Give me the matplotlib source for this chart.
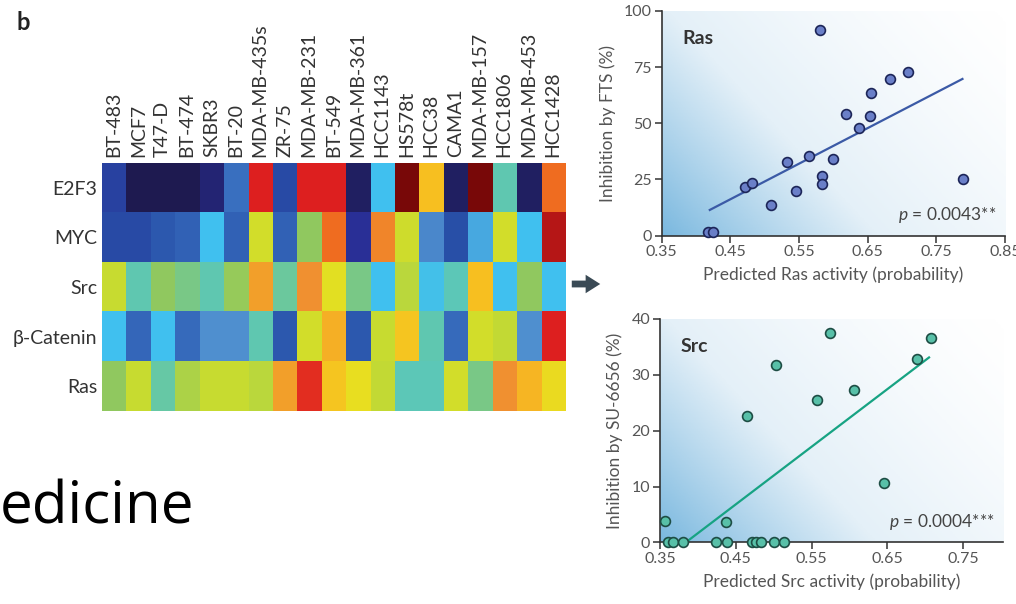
"""Heatmap of pathway activity + two inhibitor-response scatter plots"""

import numpy as np
import matplotlib
matplotlib.use('Agg')
import matplotlib.pyplot as plt
from matplotlib.colors import LinearSegmentedColormap
from matplotlib.patches import FancyArrowPatch
from matplotlib.transforms import IdentityTransform

plt.rcParams['font.family'] = ['Lato', 'DejaVu Sans']
plt.rcParams['mathtext.fontset'] = 'custom'
plt.rcParams['mathtext.rm'] = 'Lato'
plt.rcParams['mathtext.it'] = 'Lato:italic'

# ========== data ==========
cell_lines = ['BT-483', 'MCF7', 'T47-D', 'BT-474', 'SKBR3', 'BT-20', 'MDA-MB-435s',
              'ZR-75', 'MDA-MB-231', 'BT-549', 'MDA-MB-361', 'HCC1143', 'HS578t',
              'HCC38', 'CAMA1', 'MDA-MB-157', 'HCC1806', 'MDA-MB-453', 'HCC1428']
pathways = ['E2F3', 'MYC', 'Src', 'β-Catenin', 'Ras']

e2f3 = [0.12, 0.00, 0.00, 0.00, 0.04, 0.22, 0.92, 0.14, 0.92, 0.92,
        0.02, 0.38, 1.00, 0.74, 0.02, 1.00, 0.46, 0.02, 0.86]
myc = [0.14, 0.14, 0.17, 0.19, 0.38, 0.19, 0.64, 0.19, 0.54, 0.86,
       0.08, 0.82, 0.63, 0.28, 0.15, 0.34, 0.64, 0.38, 0.95]
src = [0.62, 0.46, 0.54, 0.50, 0.46, 0.55, 0.78, 0.48, 0.80, 0.67,
       0.50, 0.38, 0.60, 0.39, 0.45, 0.74, 0.38, 0.54, 0.38]
bcat = [0.38, 0.20, 0.38, 0.21, 0.30, 0.30, 0.46, 0.17, 0.64, 0.76,
        0.17, 0.62, 0.73, 0.46, 0.21, 0.64, 0.61, 0.30, 0.92]
ras = [0.54, 0.62, 0.47, 0.58, 0.62, 0.62, 0.60, 0.78, 0.91, 0.73,
       0.68, 0.61, 0.45, 0.45, 0.64, 0.50, 0.80, 0.75, 0.69]

# Ras activity vs FTS inhibition
ras_x = [0.418, 0.425, 0.472, 0.482, 0.509, 0.532, 0.546, 0.564, 0.580, 0.583,
         0.584, 0.599, 0.619, 0.637, 0.653, 0.655, 0.683, 0.709, 0.789]
ras_y = [1.8, 1.8, 21.4, 23.3, 13.6, 32.8, 20.0, 35.5, 91.5, 26.3,
         23.1, 34.1, 54.0, 47.8, 53.0, 63.6, 69.7, 72.7, 25.2]
ras_fit_x = [0.420, 0.788]
ras_fit_y = [11.4, 69.7]

# Src activity vs SU-6656 inhibition
src_x = [0.357, 0.360, 0.367, 0.381, 0.424, 0.437, 0.438, 0.465, 0.471, 0.477,
         0.483, 0.501, 0.503, 0.514, 0.557, 0.574, 0.606, 0.645, 0.689, 0.708]
src_y = [3.9, 0, 0, 0, 0, 3.7, 0, 22.7, 0, 0,
         0, 0, 31.7, 0, 25.5, 37.4, 27.2, 10.6, 32.8, 36.5]
src_fit_x = [0.384, 0.705]
src_fit_y = [0.0, 33.1]

# ========== colours ==========
stops = [(0.00, '#1e1a50'), (0.08, '#2a3098'), (0.15, '#2850a8'), (0.22, '#3a70c0'),
         (0.30, '#5090d0'), (0.38, '#40c0f0'), (0.46, '#60c8b0'), (0.54, '#90c860'),
         (0.62, '#c8dc30'), (0.68, '#e8e020'), (0.74, '#f8c020'), (0.80, '#f09030'),
         (0.86, '#f07020'), (0.92, '#e02020'), (1.00, '#780808')]
cmap = LinearSegmentedColormap.from_list('path', stops)
bg_cmap = LinearSegmentedColormap.from_list('bg', ['#ffffff', '#e4f0f8', '#7ab8df'])

TXT = '#333333'
TICK = '#555555'

fig = plt.figure(figsize=(10.16, 6.04), dpi=100)
fig.patch.set_facecolor('white')

# ========== heatmap ==========
ax = fig.add_axes([0.1001, 0.3195, 0.456, 0.4106])
mat = np.array([e2f3, myc, src, bcat, ras])
ax.imshow(mat, cmap=cmap, vmin=0, vmax=1, aspect='auto', interpolation='nearest')
ax.set_xticks(range(len(cell_lines)))
ax.set_xticklabels(cell_lines, rotation=90, fontsize=14, color=TXT)
ax.xaxis.tick_top()
ax.set_yticks(range(len(pathways)))
ax.set_yticklabels(pathways, fontsize=14, color=TXT)
ax.tick_params(length=0, pad=3)
ax.tick_params(axis='x', pad=4)
for sp in ax.spines.values():
    sp.set_visible(False)

fig.text(16 / 1016, 1 - 11 / 604, 'b', fontsize=17, fontweight='bold', color='#222222',
         ha='left', va='top')

# arrow between panels
fig.add_artist(FancyArrowPatch((569, 604 - 284), (603, 604 - 284), transform=IdentityTransform(),
                               arrowstyle='simple,tail_width=0.35,head_width=0.95,head_length=0.75',
                               mutation_scale=14, color='#3a4a55', lw=0))

# big text at lower left
fig.text(0, 1 - 523 / 604, 'edicine', fontsize=42, family='Open Sans', color='black',
         ha='left', va='baseline')


def scatter_panel(rect, xs, ys, fx, fy, xlim, ylim, yticks, xticks, face, edge, line_c,
                  name, ptxt, xlabel, ylabel):
    a = fig.add_axes(rect)
    gx, gy = np.meshgrid(np.linspace(0, 1, 200), np.linspace(0, 1, 200))
    t = np.clip(0.62 * (1 - gx) + 0.38 * (1 - gy), 0, 1) ** 1.4
    a.imshow(t, extent=[0, 1, 0, 1], transform=a.transAxes, origin='lower',
             cmap=bg_cmap, vmin=0, vmax=1, aspect='auto', zorder=0)
    a.plot(fx, fy, color=line_c, lw=1.6, zorder=2)
    a.scatter(xs, ys, s=50, facecolor=face, edgecolor=edge, linewidth=1.2, zorder=3,
              clip_on=False)
    a.set_xlim(*xlim)
    a.set_ylim(*ylim)
    a.set_xticks(xticks)
    a.set_xticklabels([f'{v:.2f}' for v in xticks])
    a.set_yticks(yticks)
    for s in ['top', 'right']:
        a.spines[s].set_visible(False)
    for s in ['left', 'bottom']:
        a.spines[s].set_color('#333333')
        a.spines[s].set_linewidth(1.2)
    a.tick_params(direction='out', length=5, width=1.1, color='#333333',
                  labelcolor=TICK, labelsize=11.5, pad=2)
    a.set_xlabel(xlabel, fontsize=12.5, color=TICK, labelpad=5)
    a.set_ylabel(ylabel, fontsize=12.5, color=TICK, labelpad=6)
    a.text(0.06, 0.875, name, transform=a.transAxes, fontsize=14, fontweight='bold',
           color=TXT, ha='left', va='center')
    a.text(0.975, 0.09, ptxt, transform=a.transAxes, fontsize=12.5, color='#444444',
           ha='right', va='center')
    return a


scatter_panel([0.6513, 0.610, 0.3379, 0.372], ras_x, ras_y, ras_fit_x, ras_fit_y,
              (0.35, 0.85), (0, 100), [0, 25, 50, 75, 100],
              [0.35, 0.45, 0.55, 0.65, 0.75, 0.85],
              '#6a7fc8', '#1c2558', '#3b5aa6', 'Ras', r'$p$ = 0.0043**',
              'Predicted Ras activity (probability)', 'Inhibition by FTS (%)')

scatter_panel([0.6496, 0.102, 0.3379, 0.370], src_x, src_y, src_fit_x, src_fit_y,
              (0.35, 0.803), (0, 40), [0, 10, 20, 30, 40],
              [0.35, 0.45, 0.55, 0.65, 0.75],
              '#58c0a8', '#1d4d44', '#17a383', 'Src', r'$p$ = 0.0004***',
              'Predicted Src activity (probability)', 'Inhibition by SU-6656 (%)')

fig.savefig('out.png', dpi=100)
